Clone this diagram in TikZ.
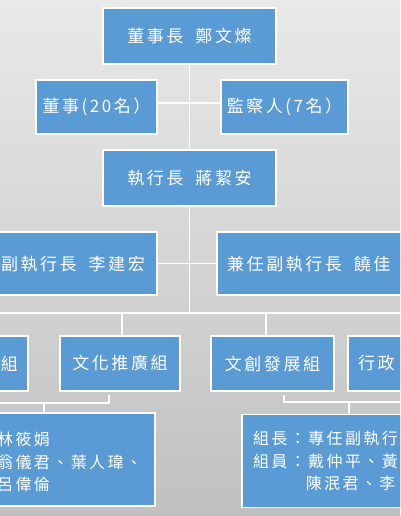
\documentclass[tikz,border=0pt]{standalone}
\usepackage{fontspec}
\newfontfamily\cjk[LetterSpace=15]{Noto Sans CJK TC}
\newcommand\namesep{\hspace{12pt}}
\definecolor{boxblue}{RGB}{91,155,213}
\definecolor{bgtop}{RGB}{233,233,233}
\definecolor{bgbottom}{RGB}{192,192,192}
\usepackage{tikz}
\usetikzlibrary{positioning}

\begin{document}
\begin{tikzpicture}[x=1pt,y=-1pt,
    orgbox/.style={fill=boxblue,draw=white,line width=1.5pt,text=white,
      inner sep=0pt,align=center,font=\cjk\fontsize{17pt}{22.5pt}\selectfont},
    orgtext/.style={text=white,inner sep=0pt,align=left,
      font=\cjk\fontsize{17pt}{22.5pt}\selectfont},
    smalltext/.style={font=\cjk\fontsize{16pt}{22.5pt}\selectfont},
    link/.style={draw=white,line width=1.5pt}]
  \useasboundingbox (0,0) rectangle (400,516);
  \shade[top color=bgtop,bottom color=bgbottom] (0,0) rectangle (400,516);
  \clip (0,0) rectangle (400,516);

  % Board level
  \node[orgbox,minimum width=173pt,minimum height=56pt] (chair) at (189.5,36) {董事長\namesep 鄭文燦};
  \node[orgbox,minimum width=121pt,minimum height=54pt] (board) at (96.5,107) {董事(20名）};
  \node[orgbox,minimum width=127pt,minimum height=54pt] (audit) at (284.5,107) {監察人(7名）};
  \node[orgbox,minimum width=173pt,minimum height=56pt] (ceo) at (189.5,178) {執行長\namesep 蔣絜安};

  % Deputies
  \node[orgbox,minimum width=230pt,minimum height=63pt] (depL) at (42,263.5) {};
  \node[orgtext,anchor=east] (depLtext) at (145,264.5) {副執行長\namesep 李建宏};
  \node[orgbox,minimum width=230pt,minimum height=63pt] (depR) at (332,263.5) {};
  \node[orgtext,anchor=west] (depRtext) at (227,264.5) {兼任副執行長\namesep 饒佳};

  % Groups
  \node[orgbox,minimum width=120pt,minimum height=55pt] (grpA) at (-32,363.5) {};
  \node[orgtext,anchor=east] (grpAtext) at (18,363.5) {組};
  \node[orgbox,minimum width=120pt,minimum height=55pt] (grpB) at (120,363.5) {文化推廣組};
  \node[orgbox,minimum width=123pt,minimum height=55pt] (grpC) at (272.5,363.5) {文創發展組};
  \node[orgbox,minimum width=120pt,minimum height=55pt] (grpD) at (408,363.5) {};
  \node[orgtext,anchor=west] (grpDtext) at (358,363.5) {行政};

  % Members
  \node[orgbox,minimum width=230pt,minimum height=93pt] (memL) at (40,459.5) {};
  \node[orgtext,smalltext,anchor=west] (memLtext) at (-3,462) {林筱娟\\翁儀君、葉人瑋、\\呂偉倫};
  \node[orgbox,smalltext,minimum width=230pt,minimum height=93pt,align=left,text width=208pt]
    (memR) at (357,461) {組長：專任副執行長\\組員：戴仲平、黃\\\phantom{組員：}陳泯君、李};

  % Connectors
  \coordinate (bus) at (189.5,313);
  \coordinate (busL) at (-10,313);
  \coordinate (busR) at (410,313);
  \coordinate (tapB) at (122,313);
  \coordinate (tapC) at (266,313);
  \draw[link] (chair) -- (ceo);
  \draw[link] ([yshift=4pt]board.east) -- ([yshift=4pt]audit.west);
  \draw[link] (ceo.south) -- (bus);
  \draw[link] (depL) -- (depR);
  \draw[link] (busL) -- (busR);
  \draw[link] (tapB) -- (tapB |- grpB.north);
  \draw[link] (tapC) -- (tapC |- grpC.north);

  \coordinate (stubB) at (109,395);
  \coordinate (hookB) at (109,403);
  \coordinate (edgeL) at (-10,403);
  \coordinate (dropB) at (44,403);
  \draw[link] (stubB) -- (hookB) -- (edgeL);
  \draw[link] (dropB) -- (dropB |- memL.north);

  \coordinate (stubC) at (284,395);
  \coordinate (hookC) at (284,402);
  \coordinate (edgeR) at (410,402);
  \coordinate (dropC) at (349,402);
  \draw[link] (stubC) -- (hookC) -- (edgeR);
  \draw[link] (dropC) -- (dropC |- memR.north);
\end{tikzpicture}
\end{document}
